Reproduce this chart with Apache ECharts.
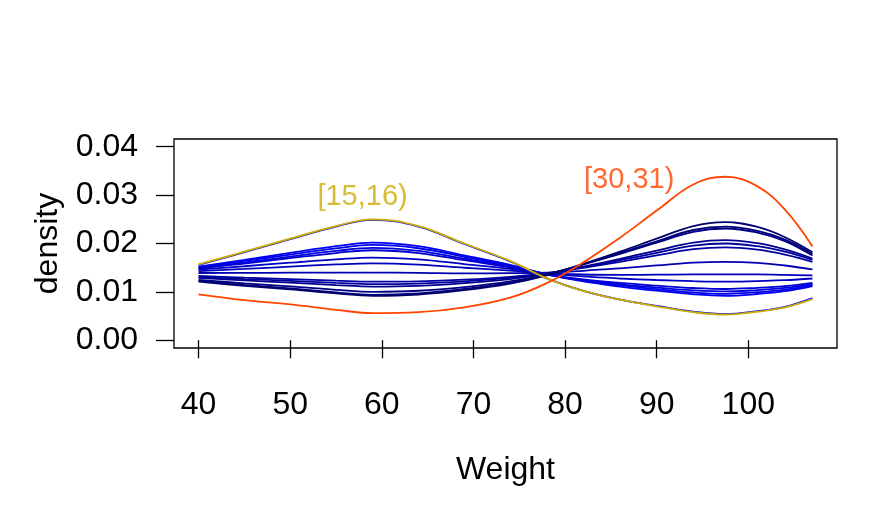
<!DOCTYPE html>
<html><head><meta charset="utf-8">
<script src="https://cdn.jsdelivr.net/npm/echarts@6/dist/echarts.min.js"></script>
<style>html,body{margin:0;padding:0;background:#fff}#c{width:872px;height:523px}</style>
</head><body><div id="c"></div>
<script>
// Weight grid (x) at which each density curve was read
const weights = [40, 45, 50, 55, 59, 64, 69, 74, 78, 82, 86, 90, 94, 97.5, 101, 104, 107];

// Density curves per age group
const dens15 = [0.0157, 0.0183, 0.0210, 0.0236, 0.0250, 0.0236, 0.0200, 0.0164, 0.0128, 0.0102, 0.0084, 0.0070, 0.0058, 0.0053, 0.0059, 0.0068, 0.0085];
const dens16 = [0.0156, 0.0182, 0.0209, 0.0235, 0.0249, 0.0235, 0.0199, 0.0163, 0.0128, 0.0102, 0.0084, 0.0071, 0.0059, 0.0054, 0.0060, 0.0069, 0.0087];
const dens17 = [0.0152, 0.0166, 0.01805, 0.01944, 0.0202, 0.01946, 0.01753, 0.01558, 0.01362, 0.01215, 0.0111, 0.01024, 0.0095, 0.0092, 0.00956, 0.01014, 0.01119];
const dens18 = [0.0151, 0.01639, 0.01772, 0.01901, 0.0197, 0.01902, 0.01724, 0.01545, 0.01365, 0.0123, 0.01134, 0.01055, 0.00987, 0.0096, 0.00993, 0.01046, 0.01142];
const dens19 = [0.0149, 0.01607, 0.01729, 0.01847, 0.0191, 0.01847, 0.01685, 0.01522, 0.01359, 0.01239, 0.01156, 0.0109, 0.01033, 0.0101, 0.01038, 0.01081, 0.01161];
const dens20 = [0.0148, 0.01586, 0.01697, 0.01803, 0.0186, 0.01803, 0.01655, 0.01508, 0.01362, 0.01256, 0.01184, 0.01128, 0.0108, 0.0106, 0.01084, 0.0112, 0.01187];
const dens21 = [0.0146, 0.0153, 0.01603, 0.01673, 0.0171, 0.01672, 0.01574, 0.01478, 0.01383, 0.01319, 0.01277, 0.01246, 0.01221, 0.0121, 0.01224, 0.01241, 0.01277];
const dens22 = [0.0143, 0.01474, 0.01522, 0.01567, 0.0159, 0.01564, 0.01499, 0.0144, 0.01385, 0.01359, 0.01352, 0.01355, 0.01361, 0.0136, 0.01361, 0.01351, 0.01343];
const dens23 = [0.0139, 0.01392, 0.01397, 0.0140, 0.0140, 0.01394, 0.01384, 0.01386, 0.01398, 0.01436, 0.01487, 0.01546, 0.01604, 0.0162, 0.0160, 0.01545, 0.01464];
const dens24 = [0.0133, 0.01294, 0.01264, 0.01231, 0.0121, 0.01219, 0.01254, 0.01312, 0.01388, 0.01499, 0.01622, 0.01754, 0.01882, 0.0192, 0.01872, 0.0177, 0.0162];
const dens25 = [0.0131, 0.01265, 0.01228, 0.01186, 0.0116, 0.01172, 0.01217, 0.01288, 0.0138, 0.01511, 0.01654, 0.01808, 0.01955, 0.0200, 0.01944, 0.0183, 0.0166];
const dens26 = [0.0129, 0.01237, 0.01191, 0.0114, 0.0111, 0.01126, 0.01181, 0.01265, 0.01372, 0.01521, 0.01682, 0.01855, 0.0202, 0.0207, 0.02008, 0.0188, 0.0169];
const dens27 = [0.0125, 0.01176, 0.01112, 0.01042, 0.0100, 0.01023, 0.01099, 0.01215, 0.01363, 0.01566, 0.01784, 0.02018, 0.02242, 0.0231, 0.02225, 0.0205, 0.0175];
const dens28 = [0.0123, 0.01145, 0.0107, 0.00988, 0.0094, 0.00968, 0.0106, 0.01192, 0.01356, 0.01573, 0.01802, 0.02046, 0.02279, 0.0235, 0.02261, 0.0208, 0.0179];
const dens29 = [0.0121, 0.01124, 0.0105, 0.00969, 0.0092, 0.00946, 0.01035, 0.0117, 0.01341, 0.01577, 0.0183, 0.02101, 0.02361, 0.0244, 0.02342, 0.0213, 0.0182];
const dens30 = [0.0095, 0.0083, 0.0074, 0.0063, 0.0056, 0.0058, 0.0068, 0.0088, 0.0118, 0.0161, 0.0212, 0.0268, 0.0322, 0.0338, 0.0318, 0.0270, 0.0194];

const blueGroups = ['[16,17)','[17,18)','[18,19)','[19,20)','[20,21)','[21,22)','[22,23)','[23,24)','[24,25)','[25,26)','[26,27)','[27,28)','[28,29)','[29,30)'];
const blueCurves = [dens16, dens17, dens18, dens19, dens20, dens21, dens22, dens23, dens24, dens25, dens26, dens27, dens28, dens29];
const blueColors = ['#0000FF','#0000F4','#0000E9','#0000DE','#0000D3','#0000C7','#0000BC','#0000B1','#0000A6','#00009B','#000090','#000085','#000079','#00006E'];

// Highlighted groups and their labels
const hiGroups = ['[15,16)', '[30,31)'];
const hiCurves = [dens15, dens30];
const hiColors = ['#CDAD00', '#FF4500'];
const labelX = [57.9, 87.0];
const labelY = [0.0297, 0.0332];

// Axis ticks
const xTicks = [40, 50, 60, 70, 80, 90, 100];
const yTicks = [0, 0.01, 0.02, 0.03, 0.04];

const FONT = 'Liberation Sans, Arial, Helvetica, sans-serif';
const toPairs = arr => weights.map((w, i) => [w, arr[i]]);

const series = [];
blueCurves.forEach((d, i) => {
  series.push({
    name: blueGroups[i], type: 'line', data: toPairs(d), smooth: 0.4,
    showSymbol: false, silent: true,
    lineStyle: { color: blueColors[i], width: 1.8 }
  });
});
hiCurves.forEach((d, i) => {
  series.push({
    name: hiGroups[i], type: 'line', data: toPairs(d), smooth: 0.4,
    showSymbol: false, silent: true,
    lineStyle: { color: hiColors[i], width: 1.8 }
  });
});
series.push({
  type: 'scatter', silent: true, symbolSize: 2,
  itemStyle: { color: 'rgba(0,0,0,0)' },
  data: hiGroups.map((g, i) => ({
    value: [labelX[i], labelY[i]],
    label: { show: true, position: 'inside', formatter: g, color: hiColors[i],
             fontSize: 29, fontFamily: FONT }
  }))
});

const chart = echarts.init(document.getElementById('c'), null, { renderer: 'canvas' });
chart.setOption({
  animation: false,
  backgroundColor: '#fff',
  grid: { left: 174, top: 139, width: 663, height: 209, show: true,
          borderColor: '#000', borderWidth: 1.3, backgroundColor: 'transparent' },
  xAxis: {
    type: 'value', min: 37.32, max: 109.68,
    axisLine: { show: false }, splitLine: { show: false },
    axisTick: { show: true, customValues: xTicks, length: 18, lineStyle: { color: '#000', width: 1.3 } },
    axisLabel: { customValues: xTicks, fontSize: 32, color: '#000', margin: 41, fontFamily: FONT },
    name: 'Weight', nameLocation: 'middle', nameGap: 106,
    nameTextStyle: { fontSize: 32, color: '#000', fontFamily: FONT }
  },
  yAxis: {
    type: 'value', min: -0.0016, max: 0.0416,
    axisLine: { show: false }, splitLine: { show: false },
    axisTick: { show: true, customValues: yTicks, length: 18, lineStyle: { color: '#000', width: 1.3 } },
    axisLabel: { customValues: yTicks, fontSize: 32, color: '#000', margin: 36, fontFamily: FONT,
                 formatter: v => v.toFixed(2) },
    name: 'density', nameLocation: 'middle', nameGap: 110,
    nameTextStyle: { fontSize: 32, color: '#000', fontFamily: FONT }
  },
  series: series
});
</script></body></html>
